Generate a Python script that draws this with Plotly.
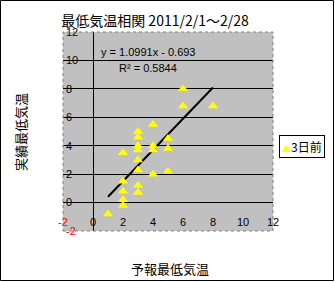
import plotly.graph_objects as go

# ---- data ----
forecast = [1, 2, 2, 2, 2, 2, 3, 3, 3, 3, 3, 3, 3, 3, 4, 4, 4, 4, 5, 5, 5, 6, 6, 8]
actual = [-0.8, 3.5, 1.5, 0.8, 0.2, -0.2, 5.0, 4.6, 4.0, 3.7, 3.0, 2.3, 1.2, 0.7,
          5.5, 4.0, 3.7, 2.0, 4.5, 3.8, 2.2, 8.0, 6.8, 6.8]
slope = 1.0991
intercept = -0.693
r2 = 0.5844
series_name = "3日前"
title_text = "最低気温相関 2011/2/1～2/28"
x_title = "予報最低気温"
y_title = "実績最低気温"
tick_vals = [-2, 0, 2, 4, 6, 8, 10, 12]
tick_text = ["<span style='color:#FF0000'>-2</span>", "0", "2", "4", "6", "8", "10", "12"]

trend_x = [min(forecast), max(forecast)]
trend_y = [slope * v + intercept for v in trend_x]

cjk = "Noto Sans CJK JP"
num = "Liberation Sans"

fig = go.Figure()
fig.add_trace(go.Scatter(
    x=trend_x, y=trend_y, mode="lines",
    line=dict(color="black", width=2), showlegend=False, hoverinfo="skip"))
fig.add_trace(go.Scatter(
    x=forecast, y=actual, mode="markers", name=series_name,
    marker=dict(symbol="triangle-up", color="#FFFF00", size=9, line=dict(width=0)),
    showlegend=False))

L, R, T, B = 63, 62, 32, 51
W, H = 335, 282
pw, ph = W - L - R, H - T - B

def px(xp):
    return (xp - L) / pw

def py(yp):
    return (H - B - yp) / ph

fig.update_layout(
    width=W, height=H,
    margin=dict(l=L, r=R, t=T, b=B, pad=0),
    paper_bgcolor="white",
    plot_bgcolor="#C0C0C0",
    showlegend=False,
    title=dict(text=title_text, x=px(155), xref="paper", xanchor="center",
               y=1 - 21 / H, yref="container", yanchor="middle",
               font=dict(family=cjk, size=14, color="black")),
    xaxis=dict(range=[-2, 12], tickvals=tick_vals, ticktext=tick_text,
               showgrid=False, zeroline=True, zerolinecolor="black", zerolinewidth=1,
               ticks="", ticklabelposition="inside", ticklabeloverflow="allow",
               tickfont=dict(family=num, size=11, color="black"),
               showline=False, fixedrange=True),
    yaxis=dict(range=[-2, 12], tickvals=tick_vals, ticktext=tick_text,
               showgrid=True, gridcolor="black", gridwidth=1,
               zeroline=True, zerolinecolor="black", zerolinewidth=1,
               ticks="", ticklabelposition="inside", ticklabeloverflow="allow",
               tickfont=dict(family=num, size=11, color="black"),
               showline=False, fixedrange=True),
    shapes=[
        dict(type="rect", xref="paper", yref="paper", x0=0, x1=1, y0=0, y1=1,
             line=dict(color="#808080", width=1, dash="dot"), layer="above"),
        dict(type="rect", xref="paper", yref="paper",
             x0=px(0.5), x1=px(W - 1.5), y0=py(H - 1.5), y1=py(0.5),
             line=dict(color="black", width=1)),
    ],
    annotations=[
        dict(text=f"y = {slope}x - {abs(intercept)}", xref="paper", yref="paper",
             x=px(148), y=py(52), xanchor="center", yanchor="middle", showarrow=False,
             font=dict(family=num, size=11, color="black")),
        dict(text=f"R² = {r2}", xref="paper", yref="paper",
             x=px(148), y=py(68), xanchor="center", yanchor="middle", showarrow=False,
             font=dict(family=num, size=11, color="black")),
        dict(text=f"<span style='color:#FFFF00;font-size:9px'>▲</span>{series_name}",
             xref="paper", yref="paper", x=px(301.5), y=py(146.5),
             xanchor="center", yanchor="middle", showarrow=False,
             bordercolor="black", borderwidth=1, borderpad=2, bgcolor="white",
             font=dict(family=cjk, size=12, color="black")),
        dict(text=x_title, xref="paper", yref="paper", x=px(170), y=py(268),
             xanchor="center", yanchor="middle", showarrow=False,
             font=dict(family=cjk, size=13, color="black")),
        dict(text=y_title, xref="paper", yref="paper", x=px(20), y=py(132),
             xanchor="center", yanchor="middle", showarrow=False, textangle=-90,
             font=dict(family=cjk, size=13, color="black")),
    ],
)

fig.write_html("out.html", config={"displayModeBar": False})
